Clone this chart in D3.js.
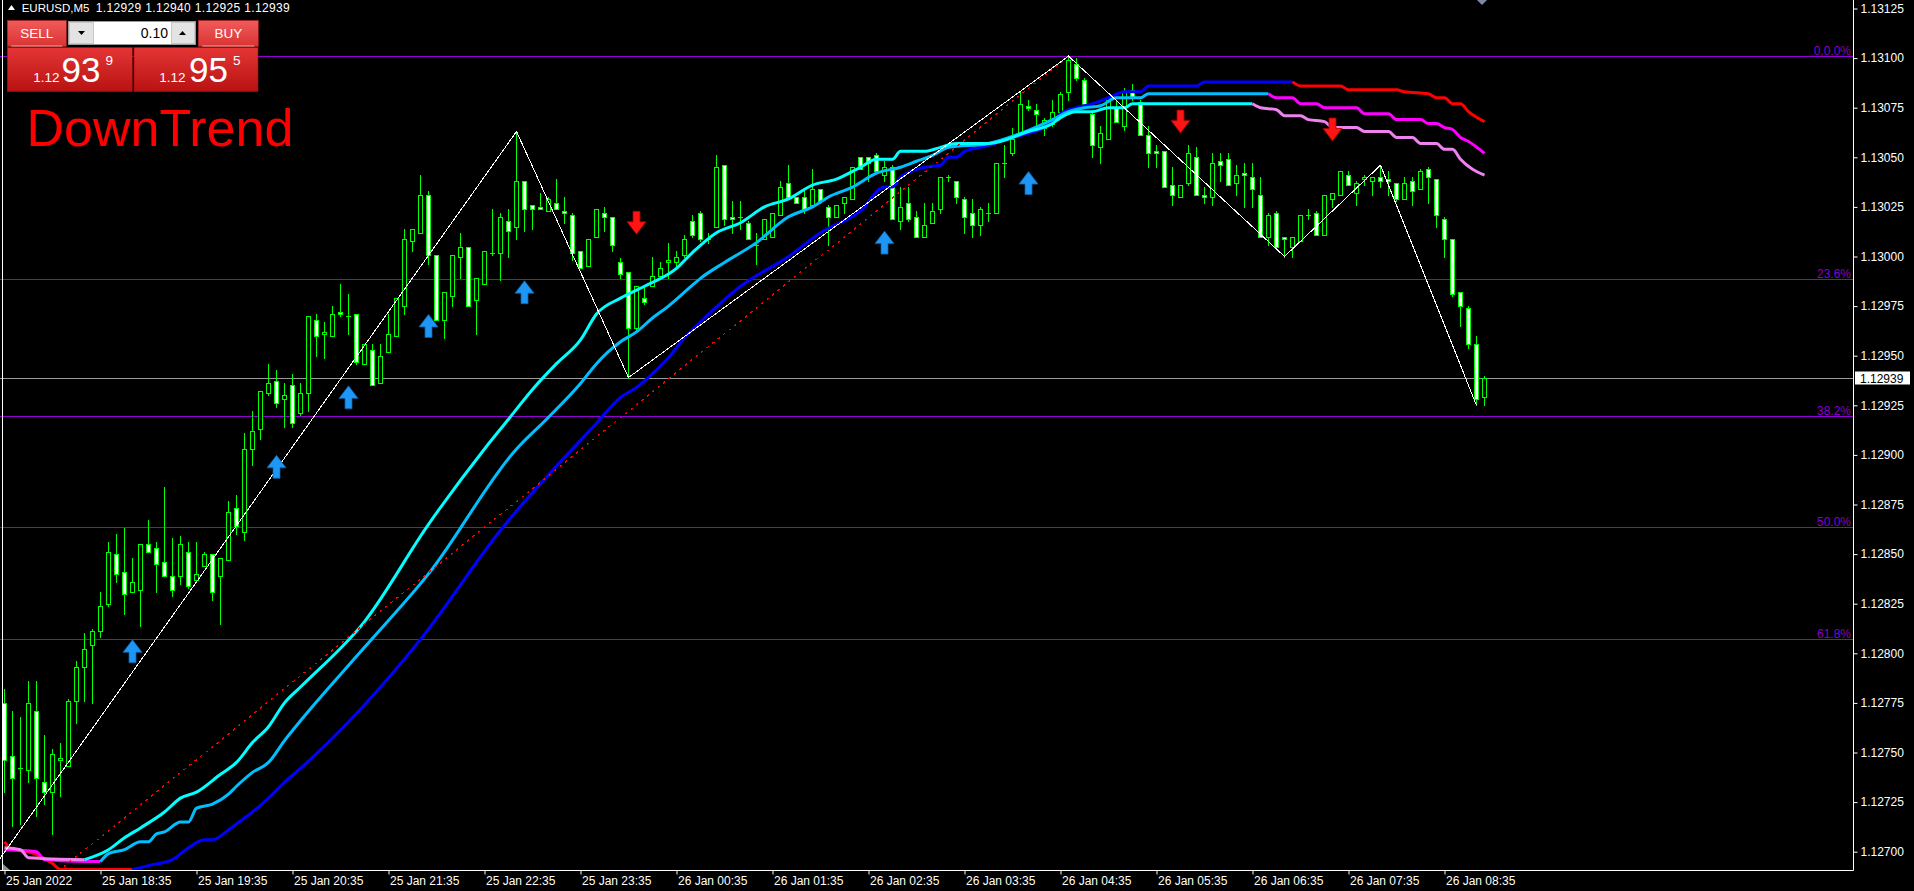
<!DOCTYPE html>
<html><head><meta charset="utf-8">
<script src="https://cdn.jsdelivr.net/npm/d3@7"></script>
<style>html,body{margin:0;padding:0;background:#000;overflow:hidden}svg{display:block}text{font-family:"Liberation Sans",Arial,sans-serif}</style>
</head><body><svg id="chart" width="1914" height="891"></svg>
<script>
// ---------- DATA ----------
const opens=[1.12775,1.12748,1.12742,1.12741,1.12771,1.12735,1.12730,1.12746,1.12743,1.12776,1.12793,1.12804,1.12811,1.12825,1.12850,1.12841,1.12831,1.12832,1.12855,1.12853,1.12846,1.12839,1.12839,1.12851,1.12837,1.12844,1.12850,1.12839,1.12847,1.12873,1.12861,1.12903,1.12913,1.12931,1.12937,1.12928,1.12935,1.12921,1.12931,1.12968,1.12961,1.12960,1.12972,1.12970,1.12971,1.12946,1.12953,1.12936,1.12952,1.12960,1.12975,1.13008,1.13012,1.13031,1.13001,1.12968,1.12980,1.13000,1.13005,1.12978,1.12986,1.13002,1.13002,1.13018,1.13015,1.13038,1.13026,1.13025,1.13023,1.13027,1.13023,1.13021,1.13003,1.12995,1.13010,1.13022,1.13020,1.12997,1.12992,1.12964,1.12979,1.12985,1.12990,1.12997,1.12997,1.13001,1.13018,1.13022,1.13009,1.13015,1.13046,1.13020,1.13020,1.13017,1.13006,1.13009,1.13010,1.13021,1.13037,1.13030,1.13030,1.13026,1.13034,1.13025,1.13020,1.13027,1.13029,1.13050,1.13050,1.13051,1.13041,1.13045,1.13018,1.13027,1.13020,1.13010,1.13017,1.13024,1.13040,1.13038,1.13029,1.13022,1.13016,1.13022,1.13022,1.13047,1.13052,1.13063,1.13076,1.13074,1.13065,1.13067,1.13073,1.13083,1.13097,1.13089,1.13072,1.13055,1.13059,1.13075,1.13066,1.13084,1.13078,1.13061,1.13053,1.13053,1.13036,1.13030,1.13037,1.13050,1.13031,1.13030,1.13048,1.13049,1.13037,1.13042,1.13040,1.13031,1.13010,1.13022,1.13010,1.13005,1.13008,1.13021,1.13022,1.13011,1.13029,1.13031,1.13041,1.13032,1.13039,1.13038,1.13040,1.13039,1.13037,1.13029,1.13038,1.13034,1.13044,1.13039,1.13019,1.13009,1.12982,1.12974,1.12956,1.12929];
const highs=[1.12782,1.12771,1.12768,1.12786,1.12786,1.12759,1.12752,1.12755,1.12777,1.12796,1.12810,1.12812,1.12831,1.12856,1.12860,1.12863,1.12848,1.12855,1.12867,1.12856,1.12884,1.12858,1.12859,1.12856,1.12856,1.12851,1.12850,1.12848,1.12877,1.12880,1.12911,1.12922,1.12932,1.12946,1.12943,1.12936,1.12941,1.12936,1.12970,1.12971,1.12967,1.12975,1.12986,1.12981,1.12971,1.12956,1.12956,1.12956,1.12971,1.12979,1.13014,1.13014,1.13041,1.13033,1.13001,1.12982,1.13001,1.13012,1.13005,1.12989,1.13003,1.13024,1.13022,1.13024,1.13063,1.13038,1.13026,1.13032,1.13030,1.13039,1.13030,1.13022,1.13003,1.13009,1.13024,1.13025,1.13020,1.12999,1.12992,1.12985,1.12985,1.13000,1.12997,1.13007,1.13003,1.13011,1.13021,1.13023,1.13012,1.13051,1.13046,1.13028,1.13028,1.13018,1.13012,1.13019,1.13022,1.13038,1.13046,1.13030,1.13033,1.13044,1.13034,1.13026,1.13026,1.13030,1.13045,1.13050,1.13050,1.13052,1.13048,1.13046,1.13035,1.13035,1.13023,1.13027,1.13027,1.13040,1.13041,1.13038,1.13030,1.13029,1.13025,1.13027,1.13047,1.13056,1.13065,1.13083,1.13079,1.13077,1.13070,1.13079,1.13083,1.13101,1.13100,1.13090,1.13074,1.13066,1.13080,1.13079,1.13085,1.13087,1.13079,1.13066,1.13056,1.13053,1.13045,1.13036,1.13056,1.13055,1.13035,1.13052,1.13052,1.13052,1.13046,1.13047,1.13047,1.13040,1.13022,1.13023,1.13010,1.13010,1.13021,1.13024,1.13023,1.13031,1.13032,1.13043,1.13043,1.13038,1.13041,1.13040,1.13046,1.13043,1.13037,1.13040,1.13040,1.13044,1.13045,1.13039,1.13020,1.13009,1.12982,1.12975,1.12960,1.12940];
const lows=[1.12730,1.12713,1.12714,1.12735,1.12718,1.12724,1.12709,1.12728,1.12743,1.12765,1.12776,1.12775,1.12808,1.12824,1.12836,1.12820,1.12831,1.12814,1.12851,1.12831,1.12839,1.12829,1.12835,1.12833,1.12837,1.12844,1.12827,1.12815,1.12847,1.12860,1.12857,1.12895,1.12908,1.12930,1.12924,1.12914,1.12914,1.12920,1.12922,1.12950,1.12949,1.12960,1.12970,1.12961,1.12946,1.12946,1.12935,1.12936,1.12952,1.12960,1.12971,1.13003,1.13012,1.12996,1.12968,1.12959,1.12975,1.12989,1.12975,1.12961,1.12986,1.13001,1.12988,1.13000,1.13009,1.13013,1.13014,1.13024,1.13023,1.13024,1.13017,1.12998,1.12994,1.12995,1.13010,1.13013,1.13003,1.12989,1.12939,1.12962,1.12976,1.12985,1.12990,1.12989,1.12995,1.13000,1.13010,1.13008,1.13007,1.13015,1.13016,1.13012,1.13014,1.13009,1.12996,1.13009,1.13010,1.13021,1.13030,1.13027,1.13022,1.13025,1.13027,1.13006,1.13020,1.13022,1.13029,1.13044,1.13038,1.13043,1.13038,1.13019,1.13014,1.13018,1.13010,1.13010,1.13017,1.13022,1.13038,1.13027,1.13012,1.13010,1.13011,1.13018,1.13022,1.13040,1.13051,1.13063,1.13074,1.13066,1.13061,1.13066,1.13073,1.13079,1.13089,1.13076,1.13050,1.13047,1.13059,1.13068,1.13064,1.13079,1.13061,1.13045,1.13045,1.13035,1.13026,1.13030,1.13036,1.13031,1.13027,1.13026,1.13038,1.13036,1.13031,1.13025,1.13025,1.13010,1.13006,1.13005,1.13000,1.13000,1.13008,1.13019,1.13011,1.13011,1.13025,1.13031,1.13036,1.13026,1.13036,1.13031,1.13035,1.13031,1.13028,1.13029,1.13026,1.13034,1.13027,1.13015,1.13000,1.12980,1.12965,1.12954,1.12925,1.12925];
const closes=[1.12746,1.12737,1.12742,1.12775,1.12737,1.12730,1.12749,1.12747,1.12776,1.12793,1.12802,1.12811,1.12824,1.12851,1.12840,1.12830,1.12836,1.12855,1.12851,1.12845,1.12839,1.12832,1.12855,1.12834,1.12840,1.12850,1.12831,1.12848,1.12871,1.12864,1.12903,1.12912,1.12932,1.12936,1.12926,1.12930,1.12916,1.12931,1.12970,1.12960,1.12962,1.12971,1.12971,1.12970,1.12947,1.12956,1.12935,1.12950,1.12961,1.12979,1.13009,1.13014,1.13031,1.13001,1.12968,1.12982,1.13001,1.13005,1.12975,1.12989,1.13003,1.13002,1.13020,1.13013,1.13038,1.13024,1.13024,1.13024,1.13029,1.13024,1.13022,1.13002,1.12994,1.13009,1.13024,1.13020,1.13006,1.12991,1.12964,1.12985,1.12977,1.12990,1.12994,1.12998,1.13000,1.13009,1.13011,1.13009,1.13009,1.13045,1.13019,1.13019,1.13020,1.13009,1.13006,1.13019,1.13022,1.13035,1.13030,1.13027,1.13024,1.13034,1.13028,1.13020,1.13026,1.13030,1.13045,1.13044,1.13047,1.13043,1.13045,1.13019,1.13025,1.13019,1.13010,1.13016,1.13023,1.13040,1.13040,1.13030,1.13020,1.13016,1.13024,1.13022,1.13047,1.13047,1.13059,1.13077,1.13075,1.13072,1.13069,1.13073,1.13082,1.13099,1.13090,1.13077,1.13056,1.13062,1.13080,1.13068,1.13083,1.13080,1.13061,1.13052,1.13052,1.13035,1.13031,1.13036,1.13052,1.13031,1.13030,1.13047,1.13046,1.13036,1.13041,1.13041,1.13034,1.13010,1.13021,1.13005,1.13009,1.13010,1.13021,1.13021,1.13011,1.13031,1.13032,1.13043,1.13036,1.13037,1.13040,1.13040,1.13038,1.13038,1.13029,1.13037,1.13033,1.13043,1.13040,1.13021,1.13009,1.12981,1.12975,1.12956,1.12928,1.12939];

// moving averages: [bar index, price]
const fastMA=[[0,1.12702],[2,1.12701],[3,1.12697],[10,1.12696],[13,1.12701],[15,1.12707],[17,1.12712],[20,1.12720],[22,1.12727],[24,1.12730],[27,1.12739],[29,1.12745],[31,1.12755],[33,1.12763],[35,1.12775],[37,1.12783],[45,1.12816],[53,1.12865],[60,1.12903],[63,1.12918],[66,1.12933],[69,1.12946],[72,1.12958],[74,1.12971],[77,1.12979],[80,1.12985],[84,1.12994],[86,1.13002],[89,1.13012],[92,1.13017],[95,1.13025],[98,1.13029],[101,1.13036],[104,1.13039],[107,1.13045],[109,1.13049],[111,1.13049],[112,1.13053],[115,1.13053],[117,1.13055],[119,1.13057],[123,1.13057],[128,1.13063],[131,1.13067],[132,1.13070],[134,1.13073],[136,1.13073],[138,1.13075],[140,1.13075],[141,1.13077],[156,1.13077],[157,1.13075],[159,1.13074],[160,1.13071],[162,1.13071],[163,1.13069],[165,1.13068],[166,1.13065],[169,1.13065],[170,1.13063],[173,1.13063],[174,1.13060],[176,1.13060],[177,1.13057],[179,1.13057],[180,1.13054],[181,1.13054],[182,1.13049],[185,1.13041]];
const midMA=[[0,1.12701],[4,1.12700],[5,1.12696],[12,1.12695],[13,1.12699],[15,1.12701],[17,1.12705],[18,1.12705],[19,1.12709],[20,1.12710],[22,1.12715],[23,1.12715],[24,1.12722],[26,1.12724],[28,1.12729],[29,1.12733],[31,1.12740],[33,1.12745],[35,1.12756],[37,1.12766],[45,1.12803],[53,1.12840],[64,1.12903],[68,1.12919],[72,1.12936],[74,1.12946],[77,1.12957],[79,1.12962],[81,1.12969],[83,1.12975],[85,1.12982],[87,1.12989],[90,1.12997],[94,1.13007],[98,1.13020],[101,1.13025],[103,1.13030],[106,1.13035],[109,1.13042],[112,1.13045],[114,1.13048],[116,1.13051],[118,1.13055],[123,1.13057],[127,1.13062],[131,1.13069],[133,1.13073],[135,1.13075],[137,1.13076],[139,1.13080],[142,1.13080],[143,1.13082],[158,1.13082],[159,1.13080],[161,1.13080],[162,1.13077],[164,1.13077],[165,1.13075],[169,1.13075],[170,1.13072],[173,1.13072],[174,1.13069],[177,1.13069],[178,1.13067],[179,1.13067],[180,1.13065],[181,1.13064],[182,1.13060],[183,1.13058],[185,1.13052]];
const slowMA=[[0,1.12705],[1,1.12701],[3,1.12700],[6,1.12694],[7,1.12691],[16,1.12691],[18,1.12693],[21,1.12696],[23,1.12702],[25,1.12706],[26,1.12706],[28,1.12711],[29,1.12714],[31,1.12720],[33,1.12727],[35,1.12735],[37,1.12742],[52,1.12807],[62,1.12862],[74,1.12916],[77,1.12929],[79,1.12934],[81,1.12941],[83,1.12949],[85,1.12959],[87,1.12967],[92,1.12985],[98,1.13000],[102,1.13012],[107,1.13023],[110,1.13035],[111,1.13035],[112,1.13040],[115,1.13045],[117,1.13046],[118,1.13050],[119,1.13050],[120,1.13053],[122,1.13055],[123,1.13056],[126,1.13060],[127,1.13061],[131,1.13068],[132,1.13072],[134,1.13075],[136,1.13077],[138,1.13080],[140,1.13083],[142,1.13083],[143,1.13086],[149,1.13086],[150,1.13088],[161,1.13088],[162,1.13086],[167,1.13086],[168,1.13084],[174,1.13084],[175,1.13083],[178,1.13082],[179,1.13080],[180,1.13080],[181,1.13077],[182,1.13077],[183,1.13073],[185,1.13068]];
const fastTurns=[10,156], midTurns=[12,158], slowTurns=[16,161];

const zigzagBars=[-13,64,78,133,160,172,184];
const zigzagPrices=[1.12626,1.13063,1.12939,1.13101,1.13000,1.13046,1.12925];

const upArrowBars=[16,34,43,53,65,110,128];
const upArrowPrices=[1.12801,1.12894,1.12929,1.12965,1.12982,1.13007,1.13037];
const downArrowBars=[79,147,166];
const downArrowPrices=[1.13017,1.13068,1.13064];

const fibLowBar=-13, fibLowPrice=1.12626, fibHighBar=133, fibHighPrice=1.13101;
const fibRatios=[0,0.236,0.382,0.5,0.618];
const fibLabels=["0,0.0%","23.6%","38.2%","50.0%","61.8%"];

const bidPrice=1.12939;
const priceTicks=d3.range(0,18).map(k=>+(1.12700+k*0.00025).toFixed(5));
const timeTickBars=[0,12,24,36,48,60,72,84,96,108,120,132,144,156,168,180];
const timeLabels=["25 Jan 2022","25 Jan 18:35","25 Jan 19:35","25 Jan 20:35","25 Jan 21:35","25 Jan 22:35","25 Jan 23:35","26 Jan 00:35","26 Jan 01:35","26 Jan 02:35","26 Jan 03:35","26 Jan 04:35","26 Jan 05:35","26 Jan 06:35","26 Jan 07:35","26 Jan 08:35"];

// ---------- DRAW ----------
const svg=d3.select('#chart');
const PR=1853.5, PB=870.5;
const x=d3.scaleLinear().domain([0,185]).range([4.5,1484.5]);
const y=d3.scaleLinear().domain([1.12700,1.13125]).range([851.7,8.5]);
const py=v=>Math.round(y(v))+0.5;

svg.append('rect').attr('width',1914).attr('height',891).attr('fill','#000');
const defs=svg.append('defs');
defs.append('clipPath').attr('id','clip').append('rect').attr('x',0).attr('y',0).attr('width',PR).attr('height',PB);

const plot=svg.append('g').attr('clip-path','url(#clip)');

// fib levels
const fibRange=fibHighPrice-fibLowPrice;
fibRatios.forEach((r,i)=>{
  const p=fibHighPrice-r*fibRange, yy=py(p);
  plot.append('line').attr('x1',0).attr('x2',PR).attr('y1',yy).attr('y2',yy).attr('stroke','#9400d3').attr('stroke-width',1.2);
  svg.append('text').attr('x',1851).attr('y',yy-2).attr('text-anchor','end').attr('font-size',12).attr('fill','#8a00cc').text(fibLabels[i]);
});

// bid line
plot.append('line').attr('x1',0).attr('x2',PR).attr('y1',py(bidPrice)).attr('y2',py(bidPrice)).attr('stroke','#9a9a9a').attr('stroke-width',1);

// candles
const idx=d3.range(opens.length);
const cg=plot.append('g');
cg.selectAll('line.wick').data(idx).join('line').attr('class','wick')
  .attr('x1',i=>x(i)).attr('x2',i=>x(i)).attr('y1',i=>py(highs[i])-0.5).attr('y2',i=>py(lows[i])+0.5)
  .attr('stroke','#00ff00').attr('stroke-width',1);
idx.forEach(i=>{
  const t=Math.min(py(opens[i]),py(closes[i])), b=Math.max(py(opens[i]),py(closes[i]));
  if(b-t<1){
    cg.append('line').attr('x1',x(i)-2.5).attr('x2',x(i)+2.5).attr('y1',t).attr('y2',t).attr('stroke','#00ff00');
  } else {
    cg.append('rect').attr('x',x(i)-2).attr('y',t).attr('width',4).attr('height',b-t)
      .attr('fill',closes[i]<opens[i]?'#ffffff':'#000000').attr('stroke','#00ff00').attr('stroke-width',1);
  }
});

// moving averages
const line=d3.line().x(d=>x(d[0])).y(d=>y(d[1])).curve(d3.curveMonotoneX);
function drawMA(data,turns,upCol,downCol){
  const segs=[
    [data.filter(d=>d[0]<=turns[0]),downCol],
    [data.filter(d=>d[0]>=turns[0]&&d[0]<=turns[1]),upCol],
    [data.filter(d=>d[0]>=turns[1]),downCol]];
  segs.forEach(([pts,c])=>{ if(pts.length>1) plot.append('path').attr('d',line(pts)).attr('fill','none').attr('stroke',c).attr('stroke-width',3).attr('stroke-linejoin','round'); });
}
drawMA(slowMA,slowTurns,'#0000ff','#ff0000');
drawMA(midMA,midTurns,'#00bfff','#ff00ff');
drawMA(fastMA,fastTurns,'#00ffff','#ee82ee');

// fib trendline
plot.append('line').attr('x1',x(fibLowBar)).attr('y1',y(fibLowPrice)).attr('x2',x(fibHighBar)).attr('y2',y(fibHighPrice))
  .attr('stroke','#ff0000').attr('stroke-width',1.3).attr('stroke-dasharray','2.5 4.5').attr('shape-rendering','crispEdges');

// zigzag
plot.append('path').attr('d',d3.line().x(d=>x(d[0])).y(d=>y(d[1]))(zigzagBars.map((b,i)=>[b,zigzagPrices[i]])))
  .attr('fill','none').attr('stroke','#ffffff').attr('stroke-width',1).attr('shape-rendering','crispEdges');

// arrows
const upPath='M0,-11.5 L9.5,1 L3.5,1 L3.5,11.5 L-3.5,11.5 L-3.5,1 L-9.5,1 Z';
upArrowBars.forEach((b,i)=>{
  plot.append('path').attr('d',upPath).attr('transform',`translate(${x(b)},${y(upArrowPrices[i])})`)
    .attr('fill','#1e96f5').attr('stroke','#0c5fa8').attr('stroke-width',0.8);
});
downArrowBars.forEach((b,i)=>{
  plot.append('path').attr('d',upPath).attr('transform',`translate(${x(b)},${y(downArrowPrices[i])}) scale(1,-1)`)
    .attr('fill','#ff1414').attr('stroke','#a80000').attr('stroke-width',0.8);
});

// small markers
svg.append('polygon').attr('points','3,864 3,870 10,870').attr('fill','#8a9098');
svg.append('polygon').attr('points','1477,0 1487,0 1482,5').attr('fill','#7c8aa8');

// frame
svg.append('line').attr('x1',2.5).attr('x2',2.5).attr('y1',0).attr('y2',PB).attr('stroke','#fff');
svg.append('line').attr('x1',0).attr('x2',PR).attr('y1',PB).attr('y2',PB).attr('stroke','#fff');
svg.append('line').attr('x1',PR).attr('x2',PR).attr('y1',0).attr('y2',PB).attr('stroke','#fff');

// y axis
const yAxis=svg.append('g').attr('transform',`translate(${PR},0)`)
  .call(d3.axisRight(y).tickValues(priceTicks).tickSize(4).tickPadding(3).tickFormat(d3.format('.5f')));
yAxis.select('.domain').remove();
yAxis.selectAll('line').attr('stroke','#fff');
yAxis.selectAll('text').attr('fill','#fff').attr('font-size',12).attr('font-family','"Liberation Sans",Arial,sans-serif');

// bid label
svg.append('rect').attr('x',1855).attr('y',py(bidPrice)-7).attr('width',55).attr('height',13).attr('fill','#fff');
svg.append('text').attr('x',1860).attr('y',py(bidPrice)+4.5).attr('font-size',12).attr('fill','#000').text(bidPrice.toFixed(5));

// x axis
const xAxis=svg.append('g').attr('transform',`translate(0,${PB})`)
  .call(d3.axisBottom(x).tickValues(timeTickBars).tickSize(4).tickFormat((d,i)=>timeLabels[i]));
xAxis.select('.domain').remove();
xAxis.selectAll('line').attr('stroke','#fff');
xAxis.selectAll('text').attr('fill','#fff').attr('font-size',12).attr('text-anchor','start').attr('dx',1).attr('y',6)
  .attr('font-family','"Liberation Sans",Arial,sans-serif');

// ---------- header & trade panel ----------
svg.append('polygon').attr('points','8,10 15,10 11.5,5').attr('fill','#fff');
svg.append('text').attr('x',21.7).attr('y',12).attr('font-size',11.5).attr('fill','#fff').text('EURUSD,M5');
svg.append('text').attr('x',95.7).attr('y',12).attr('font-size',12).attr('fill','#fff')
  .attr('textLength',194).attr('lengthAdjust','spacing').text('1.12929 1.12940 1.12925 1.12939');

const g1=defs.append('linearGradient').attr('id','btnTop').attr('x1',0).attr('y1',0).attr('x2',0).attr('y2',1);
g1.append('stop').attr('offset','0%').attr('stop-color','#f25a5a');
g1.append('stop').attr('offset','100%').attr('stop-color','#d93434');
const g2=defs.append('linearGradient').attr('id','btnBot').attr('x1',0).attr('y1',0).attr('x2',0).attr('y2',1);
g2.append('stop').attr('offset','0%').attr('stop-color','#e53535');
g2.append('stop').attr('offset','100%').attr('stop-color','#b81212');

function panel(x0,w,label,bx,bw){
  svg.append('rect').attr('x',x0).attr('y',20.5).attr('width',w).attr('height',26).attr('fill','url(#btnTop)').attr('stroke','#b02020').attr('stroke-width',0.6);
  svg.append('line').attr('x1',x0+4).attr('x2',x0+w-4).attr('y1',46).attr('y2',46).attr('stroke','#f7a0a0').attr('stroke-width',1);
  svg.append('text').attr('x',x0+w/2).attr('y',38).attr('text-anchor','middle').attr('font-size',13.5).attr('fill','#fff').text(label);
  svg.append('rect').attr('x',bx).attr('y',47.5).attr('width',bw).attr('height',44).attr('fill','url(#btnBot)').attr('stroke','#a01010').attr('stroke-width',0.6);
}
panel(7.3,59,'SELL',7.3,125);
panel(198.3,60,'BUY',134,124);
// spinner
svg.append('rect').attr('x',68.5).attr('y',21.5).attr('width',127).attr('height',23).attr('fill','#fff').attr('stroke','#9a9a9a');
svg.append('rect').attr('x',69.5).attr('y',22.5).attr('width',24).attr('height',21).attr('fill','#e3e3e3').attr('stroke','#c8c8c8');
svg.append('rect').attr('x',171.5).attr('y',22.5).attr('width',23).attr('height',21).attr('fill','#e3e3e3').attr('stroke','#c8c8c8');
svg.append('polygon').attr('points','78,31 85,31 81.5,35').attr('fill','#000');
svg.append('polygon').attr('points','179,35 186,35 182.5,31').attr('fill','#000');
svg.append('text').attr('x',168).attr('y',38).attr('text-anchor','end').attr('font-size',14).attr('fill','#000').text('0.10');

function price(xs,small,big,sup){
  svg.append('text').attr('x',xs[0]).attr('y',81.7).attr('font-size',13.5).attr('fill','#fff').text(small);
  svg.append('text').attr('x',xs[1]).attr('y',81.7).attr('font-size',35).attr('fill','#fff').text(big);
  svg.append('text').attr('x',xs[2]).attr('y',65).attr('font-size',13.5).attr('fill','#fff').text(sup);
}
price([33.3,61.5,105.5],'1.12','93','9');
price([159.3,189,233],'1.12','95','5');

svg.append('text').attr('x',26.5).attr('y',146).attr('font-size',52).attr('fill','#ff0000').text('DownTrend');
</script>
</body></html>
